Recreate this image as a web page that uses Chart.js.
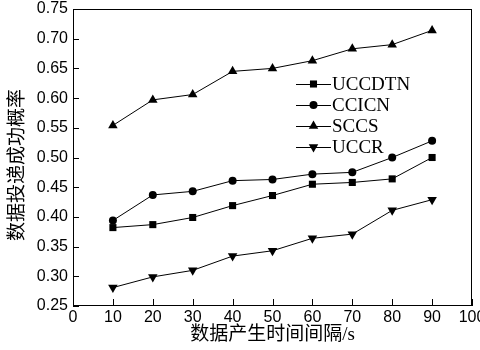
<!DOCTYPE html>
<html>
<head>
<meta charset="utf-8">
<script src="https://cdn.jsdelivr.net/npm/chart.js@4/dist/chart.umd.min.js"></script>
<style>
  html, body { margin: 0; padding: 0; background: #fff; }
  #wrap { width: 480px; height: 350px; }
</style>
</head>
<body>
<div id="wrap"><canvas id="c" width="480" height="350"></canvas></div>
<script>
// data
const intervals = [10, 20, 30, 40, 50, 60, 70, 80, 90];
const uccdtn = [0.382, 0.387, 0.399, 0.419, 0.436, 0.455, 0.458, 0.464, 0.500];
const ccicn  = [0.394, 0.437, 0.443, 0.461, 0.463, 0.472, 0.475, 0.500, 0.528];
const sccs   = [0.554, 0.597, 0.606, 0.645, 0.650, 0.663, 0.683, 0.690, 0.714];
const uccr   = [0.281, 0.299, 0.310, 0.334, 0.343, 0.364, 0.371, 0.411, 0.429];

const seriesNames = ['UCCDTN', 'CCICN', 'SCCS', 'UCCR'];
const xTitle = '数据产生时间间隔/s';
const yTitle = '数据投递成功概率';

const markers = [
  { pointStyle: 'rect', radius: 5, rotation: 0 },
  { pointStyle: 'circle', radius: 4, rotation: 0 },
  { pointStyle: 'triangle', radius: 5.5, rotation: 0 },
  { pointStyle: 'triangle', radius: 5.5, rotation: 180 },
];

const serif = '"Liberation Serif", "Times New Roman", Tinos, "DejaVu Serif", serif';
const cjk = serif.replace(', serif', ', "Noto Sans CJK SC", serif');
const sans = '"Liberation Sans", Arial, sans-serif';

function makeSet(name, values, m) {
  return {
    label: name,
    data: values.map((v, i) => ({ x: intervals[i], y: v })),
    borderColor: '#000',
    backgroundColor: '#000',
    borderWidth: 1,
    pointStyle: m.pointStyle,
    pointRadius: m.radius,
    pointRotation: m.rotation,
    pointBorderWidth: 0,
    tension: 0,
  };
}

// frame, inward ticks, y title and the in-plot legend
const framePlugin = {
  id: 'frame',
  afterDraw(chart) {
    const { ctx, chartArea: a, scales } = chart;
    ctx.save();
    ctx.strokeStyle = '#000';
    ctx.lineWidth = 1;
    ctx.strokeRect(Math.round(a.left) + 0.5, Math.round(a.top) + 0.5,
      Math.round(a.right - a.left) - 1, Math.round(a.bottom - a.top) - 1);

    ctx.beginPath();
    scales.y.ticks.forEach(t => {
      const y = Math.round(scales.y.getPixelForValue(t.value)) + 0.5;
      ctx.moveTo(a.left, y);
      ctx.lineTo(a.left + 6, y);
    });
    scales.x.ticks.forEach(t => {
      const x = Math.round(scales.x.getPixelForValue(t.value)) + 0.5;
      ctx.moveTo(x, a.bottom);
      ctx.lineTo(x, a.bottom - 7);
    });
    ctx.stroke();

    // y axis title, rotated
    ctx.save();
    ctx.translate(18, 165);
    ctx.rotate(-Math.PI / 2);
    ctx.font = '19px ' + cjk;
    ctx.textAlign = 'center';
    ctx.textBaseline = 'middle';
    ctx.fillStyle = '#000';
    ctx.fillText(yTitle, 0, 0);
    ctx.restore();

    // legend: line + marker + name
    const lx = 296, lw = 35, ly = 84, gap = 21;
    ctx.font = '19px ' + serif;
    ctx.textBaseline = 'middle';
    ctx.textAlign = 'left';
    ctx.fillStyle = '#000';
    seriesNames.forEach((name, i) => {
      const y = ly + i * gap;
      ctx.beginPath();
      ctx.moveTo(lx, y + 0.5);
      ctx.lineTo(lx + lw, y + 0.5);
      ctx.stroke();
      Chart.helpers.drawPoint(ctx, {
        pointStyle: markers[i].pointStyle,
        radius: markers[i].radius,
        rotation: markers[i].rotation,
        borderWidth: 0,
      }, lx + lw / 2, y);
      ctx.fillText(name, lx + lw + 1, y + 1);
    });
    ctx.restore();
  }
};

function build() {
  new Chart(document.getElementById('c'), {
    type: 'line',
    data: {
      datasets: [
        makeSet(seriesNames[0], uccdtn, markers[0]),
        makeSet(seriesNames[1], ccicn, markers[1]),
        makeSet(seriesNames[2], sccs, markers[2]),
        makeSet(seriesNames[3], uccr, markers[3]),
      ]
    },
    options: {
      responsive: false,
      animation: false,
      layout: { padding: { top: 9, right: 8, left: 0, bottom: 0 } },
      plugins: { legend: { display: false }, tooltip: { enabled: false } },
      scales: {
        x: {
          type: 'linear',
          min: 0, max: 100,
          afterFit: s => { s.height = 44; s.paddingLeft = 0; s.paddingRight = 0; },
          grid: { display: false, drawTicks: false },
          border: { display: false },
          ticks: {
            stepSize: 10,
            color: '#000',
            padding: 2,
            maxRotation: 0,
            font: { family: sans, size: 16 },
          },
          title: {
            display: true,
            text: xTitle,
            color: '#000',
            font: { family: cjk, size: 19 },
            padding: { top: 0, bottom: 4 },
          },
        },
        y: {
          min: 0.25, max: 0.75,
          afterFit: s => { s.width = 73; s.paddingTop = 0; s.paddingBottom = 0; },
          grid: { display: false, drawTicks: false },
          border: { display: false },
          ticks: {
            stepSize: 0.05,
            color: '#000',
            padding: 5,
            font: { family: sans, size: 16 },
            callback: v => v.toFixed(2),
          },
        },
      },
    },
    plugins: [framePlugin],
  });
}

Promise.all([
  document.fonts.load('18px "Liberation Serif"'),
  document.fonts.load('16px "Liberation Sans"'),
  document.fonts.load('18px "Noto Sans CJK SC"', '数据'),
]).catch(() => {}).then(build);
</script>
</body>
</html>
